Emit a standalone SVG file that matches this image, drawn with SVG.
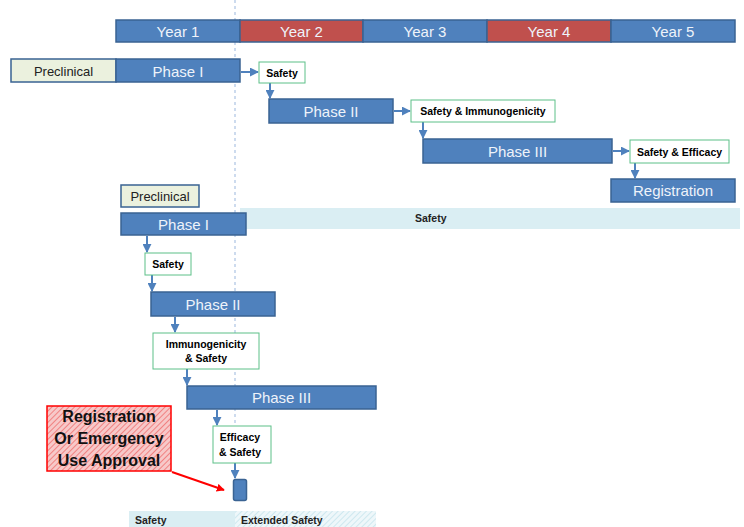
<svg xmlns="http://www.w3.org/2000/svg" width="744" height="527" viewBox="0 0 744 527">
<defs>
<style>
.bar{stroke:#3a6393;stroke-width:1.5}
.blue{fill:#4f81bd}
.red{fill:#c0504d}
.pre{fill:#ebf1de;stroke:#3a6393;stroke-width:1.5}
.g{fill:#ffffff;stroke:#5cc088;stroke-width:1}
.wt{font-family:"Liberation Sans",Arial,sans-serif;font-size:15px;fill:#eef3fa;text-anchor:middle}
.pt{font-family:"Liberation Sans",Arial,sans-serif;font-size:13px;fill:#222;text-anchor:middle}
.st{font-family:"Liberation Sans",Arial,sans-serif;font-size:10.5px;font-weight:bold;fill:#000;text-anchor:middle}
.bt{font-family:"Liberation Sans",Arial,sans-serif;font-size:10.5px;font-weight:bold;fill:#222}
.rt{font-family:"Liberation Sans",Arial,sans-serif;font-size:16px;font-weight:bold;fill:#111;text-anchor:middle}
.con{stroke:#4f81bd;stroke-width:2;fill:none;marker-end:url(#ah)}
</style>
<marker id="ah" viewBox="0 0 10 10" refX="9" refY="5" markerWidth="4.5" markerHeight="4.5" orient="auto" markerUnits="strokeWidth">
<path d="M0,0 L10,5 L0,10 z" fill="#4f81bd"/>
</marker>
<marker id="rah" viewBox="0 0 10 10" refX="9" refY="5" markerWidth="4" markerHeight="4" orient="auto" markerUnits="strokeWidth">
<path d="M0,0 L10,5 L0,10 z" fill="#ff0000"/>
</marker>
<pattern id="rh" width="4" height="4" patternUnits="userSpaceOnUse" patternTransform="rotate(45)">
<rect width="4" height="4" fill="#f7c9c9"/>
<line x1="0" y1="0" x2="0" y2="4" stroke="#f06a6a" stroke-width="1.5"/>
</pattern>
<pattern id="bh" width="4" height="4" patternUnits="userSpaceOnUse" patternTransform="rotate(45)">
<rect width="4" height="4" fill="#eef7fa"/>
<line x1="0" y1="0" x2="0" y2="4" stroke="#c4e3ec" stroke-width="1.5"/>
</pattern>
</defs>
<rect width="744" height="527" fill="#ffffff"/>

<g id="bands">
<rect x="240" y="208" width="500" height="21" fill="#daeef3"/>
<text class="bt" x="415" y="222">Safety</text>
<rect x="129" y="511" width="106" height="16" fill="#daeef3"/>
<rect x="235" y="511" width="141" height="16" fill="url(#bh)"/>
<text class="bt" x="135" y="524">Safety</text>
<text class="bt" x="241" y="524">Extended Safety</text>
</g>

<line id="year-divider" x1="235" y1="0" x2="235" y2="478" stroke="#9bb7dd" stroke-width="1" stroke-dasharray="3,3"/>

<g id="years">
<rect class="bar blue" x="116" y="20" width="124" height="22"/>
<text class="wt" x="178" y="36.5">Year 1</text>
<rect class="bar red" x="240" y="20" width="123" height="22"/>
<text class="wt" x="301.5" y="36.5">Year 2</text>
<rect class="bar blue" x="363" y="20" width="124" height="22"/>
<text class="wt" x="425" y="36.5">Year 3</text>
<rect class="bar red" x="487" y="20" width="124" height="22"/>
<text class="wt" x="549" y="36.5">Year 4</text>
<rect class="bar blue" x="611" y="20" width="124" height="22"/>
<text class="wt" x="673" y="36.5">Year 5</text>
</g>

<g id="connectors">
<line class="con" x1="241" y1="72" x2="258" y2="72"/>
<line class="con" x1="270" y1="83" x2="270" y2="98"/>
<line class="con" x1="394" y1="111" x2="410" y2="111"/>
<line class="con" x1="423" y1="122" x2="423" y2="138"/>
<line class="con" x1="613" y1="151" x2="629" y2="151"/>
<line class="con" x1="635" y1="163" x2="635" y2="178"/>
<line class="con" x1="147" y1="236" x2="147" y2="252"/>
<line class="con" x1="152" y1="275" x2="152" y2="291"/>
<line class="con" x1="175" y1="317" x2="175" y2="332"/>
<line class="con" x1="187" y1="369" x2="187" y2="385"/>
<line class="con" x1="217" y1="410" x2="217" y2="425"/>
<line class="con" x1="235" y1="463" x2="235" y2="478"/>
<line x1="172" y1="472" x2="224" y2="490" stroke="#ff0000" stroke-width="2" marker-end="url(#rah)"/>
</g>

<g id="preclinical-1">
<rect class="pre" x="11" y="59" width="105" height="23"/>
<text class="pt" x="63.5" y="75.5">Preclinical</text>
</g>
<g id="phase1-1">
<rect class="bar blue" x="116" y="59" width="124" height="23"/>
<text class="wt" x="178" y="76.5">Phase I</text>
</g>
<g id="safety-1">
<rect class="g" x="259" y="62" width="46" height="21"/>
<text class="st" x="282" y="76.5">Safety</text>
</g>
<g id="phase2-1">
<rect class="bar blue" x="269" y="99" width="124" height="24"/>
<text class="wt" x="331" y="116.5">Phase II</text>
</g>
<g id="safety-immuno-1">
<rect class="g" x="411" y="100" width="144" height="22"/>
<text class="st" x="483" y="115">Safety &amp; Immunogenicity</text>
</g>
<g id="phase3-1">
<rect class="bar blue" x="423" y="139" width="189" height="24"/>
<text class="wt" x="517.5" y="156.5">Phase III</text>
</g>
<g id="safety-efficacy-1">
<rect class="g" x="630" y="140" width="99" height="23"/>
<text class="st" x="679.5" y="155.5">Safety &amp; Efficacy</text>
</g>
<g id="registration-1">
<rect class="bar blue" x="611" y="179" width="124" height="23"/>
<text class="wt" x="673" y="196" font-size="16">Registration</text>
</g>

<g id="preclinical-2">
<rect class="pre" x="121" y="185" width="78" height="22"/>
<text class="pt" x="160" y="200.5">Preclinical</text>
</g>
<g id="phase1-2">
<rect class="bar blue" x="121" y="213" width="125" height="22"/>
<text class="wt" x="183.5" y="229.5">Phase I</text>
</g>
<g id="safety-2">
<rect class="g" x="145" y="253" width="46" height="22"/>
<text class="st" x="168" y="268">Safety</text>
</g>
<g id="phase2-2">
<rect class="bar blue" x="151" y="292" width="124" height="24"/>
<text class="wt" x="213" y="309.5">Phase II</text>
</g>
<g id="immuno-safety-2">
<rect class="g" x="153" y="333" width="106" height="36"/>
<text class="st" x="206" y="347.5">Immunogenicity</text>
<text class="st" x="206" y="361.5">&amp; Safety</text>
</g>
<g id="phase3-2">
<rect class="bar blue" x="187" y="386" width="189" height="23"/>
<text class="wt" x="281.5" y="403">Phase III</text>
</g>
<g id="efficacy-safety-2">
<rect class="g" x="213" y="426" width="58" height="37"/>
<text class="st" x="240" y="441">Efficacy</text>
<text class="st" x="240" y="456">&amp; Safety</text>
</g>
<g id="approval-marker">
<rect class="bar blue" x="233.5" y="479.5" width="13" height="21" rx="2"/>
</g>
<g id="registration-eua">
<rect x="47" y="406" width="124" height="65" fill="url(#rh)" stroke="#ff0000" stroke-width="1.5"/>
<text class="rt" x="109" y="422">Registration</text>
<text class="rt" x="109" y="444">Or Emergency</text>
<text class="rt" x="109" y="466">Use Approval</text>
</g>
</svg>
